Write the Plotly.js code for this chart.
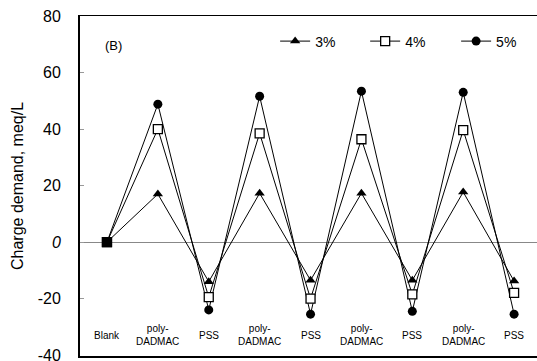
<!DOCTYPE html>
<html><head><meta charset="utf-8">
<script src="https://cdn.plot.ly/plotly-3.0.1.min.js"></script>
<style>html,body{margin:0;padding:0;background:#fff}#chart{width:537px;height:361px}</style>
</head><body><div id="chart"></div>
<script>
const categories = ["Blank","poly-<br>DADMAC","PSS","poly-<br>DADMAC","PSS","poly-<br>DADMAC","PSS","poly-<br>DADMAC","PSS"];
const series3 = [0, 17, -14, 17.3, -13.5, 17.3, -13.5, 17.7, -13.8];
const series4 = [0, 40, -19.5, 38.5, -20, 36.4, -18.5, 39.6, -18];
const series5 = [0, 48.8, -24, 51.6, -25.5, 53.4, -24.5, 53, -25.5];
const seriesNames = ["3%","4%","5%"];
const yTicks = [-40,-20,0,20,40,60,80];
const yTickText = ["-40","-20","<i>0</i>","20","40","60","80"];

const xs = categories.map((c,i)=>i);
const font = "Arial, 'Liberation Sans', sans-serif";
const lineStyle = {color:'#000', width:1};

const traces = [
  {x:xs, y:series5, name:seriesNames[2], mode:'lines+markers', line:lineStyle,
   marker:{symbol:'circle', size:9, color:'#000'}, legend:'legend3'},
  {x:xs, y:series3, name:seriesNames[0], mode:'lines+markers', line:lineStyle,
   marker:{symbol:'triangle-up', size:9, color:'#000'}, legend:'legend'},
  {x:xs, y:series4, name:seriesNames[1], mode:'lines+markers', line:lineStyle,
   marker:{symbol:'square', size:9, color:'#fff', line:{color:'#000', width:1.3}}, legend:'legend2'},
  {x:[xs[0]], y:[series4[0]], mode:'markers', showlegend:false,
   marker:{symbol:'square', size:9, color:'#000', line:{color:'#000', width:1.3}}},
];

const annotations = categories.map((c,i)=>({
  x:i, y:-33, xref:'x', yref:'y', text:c, showarrow:false,
  font:{family:font, size:10, color:'#000'}, align:'center'
}));
annotations.push({x:0.05, y:69.5, xref:'paper', yref:'y', xanchor:'left', text:'(B)', showarrow:false,
  font:{family:font, size:13, color:'#000'}});

function leg(x){
  return {orientation:'h', x:x, y:0.925, xanchor:'left', yanchor:'middle',
    font:{family:font, size:14, color:'#000'}, bgcolor:'rgba(0,0,0,0)'};
}

const layout = {
  width:537, height:361,
  margin:{l:80, r:0, t:16, b:5},
  paper_bgcolor:'#fff', plot_bgcolor:'#fff',
  font:{family:font, color:'#000'},
  showlegend:true,
  legend:leg(0.427), legend2:leg(0.624), legend3:leg(0.823),
  xaxis:{range:[-0.53, 8.45], showticklabels:false, ticks:'', showgrid:false, zeroline:false,
    showline:true, linecolor:'#000', linewidth:1.5, mirror:true},
  yaxis:{range:[-40.3,80], tickvals:yTicks, ticktext:yTickText, ticks:'inside', ticklen:4, tickcolor:'#999',
    showgrid:false, zeroline:true, zerolinecolor:'#888', zerolinewidth:1,
    showline:true, linecolor:'#000', linewidth:2, mirror:false, ticklabelstandoff:14, ticklabeloverflow:'allow',
    tickfont:{family:font, size:16, color:'#000'},
    title:{text:'Charge demand, meq/L', font:{family:font, size:16, color:'#000'}, standoff:10}},
  annotations:annotations
};
Plotly.newPlot('chart', traces, layout, {displayModeBar:false, staticPlot:true});
</script></body></html>
